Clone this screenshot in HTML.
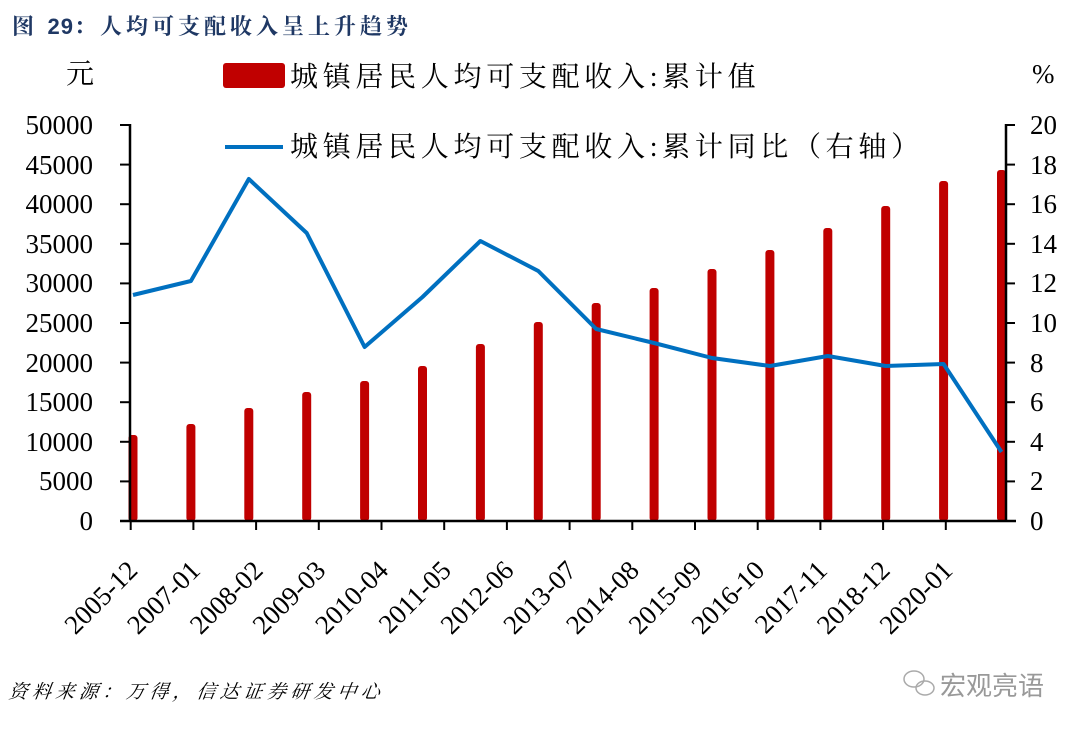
<!DOCTYPE html>
<html><head><meta charset="utf-8"><style>
body{margin:0;background:#fff;width:1080px;height:730px;overflow:hidden}
svg{display:block}
.s{font-family:"Liberation Serif","Noto Serif CJK SC",serif;font-size:27px;fill:#000}
.c{font-family:"Liberation Serif","Noto Serif CJK SC",serif;font-size:28px;fill:#000;letter-spacing:4.7px}
</style></head><body>
<svg width="1080" height="730" viewBox="0 0 1080 730">
<text x="12" y="34" font-family="'Liberation Serif','Noto Serif CJK SC',serif" font-size="22" font-weight="bold" fill="#1F3864" letter-spacing="4">图 <tspan font-family="'Liberation Sans',sans-serif" letter-spacing="1">29</tspan>：人均可支配收入呈上升趋势</text>
<text x="66" y="83" class="c" font-size="26" letter-spacing="0">元</text>
<text x="1032" y="83" class="s" font-size="27">%</text>
<rect x="223" y="63" width="62" height="25" rx="3" fill="#C00000"/>
<text x="290" y="86" class="c">城镇居民人均可支配收入:累计值</text>
<line x1="225" y1="147" x2="283" y2="147" stroke="#0070C0" stroke-width="4"/>
<text x="290" y="156" class="c">城镇居民人均可支配收入:累计同比（右轴）</text>
<g fill="#C00000">
<rect x="128.5" y="435" width="9" height="86" rx="3"/>
<rect x="186.4" y="424" width="9" height="97" rx="3"/>
<rect x="244.3" y="408" width="9" height="113" rx="3"/>
<rect x="302.2" y="392" width="9" height="129" rx="3"/>
<rect x="360.1" y="381" width="9" height="140" rx="3"/>
<rect x="418" y="366" width="9" height="155" rx="3"/>
<rect x="475.9" y="344" width="9" height="177" rx="3"/>
<rect x="533.8" y="322" width="9" height="199" rx="3"/>
<rect x="591.7" y="303" width="9" height="218" rx="3"/>
<rect x="649.6" y="288" width="9" height="233" rx="3"/>
<rect x="707.5" y="269" width="9" height="252" rx="3"/>
<rect x="765.4" y="250" width="9" height="271" rx="3"/>
<rect x="823.3" y="228" width="9" height="293" rx="3"/>
<rect x="881.2" y="206" width="9" height="315" rx="3"/>
<rect x="939.1" y="181" width="9" height="340" rx="3"/>
<rect x="997" y="170" width="9" height="351" rx="3"/>
</g>
<g stroke="#000" stroke-width="2.5" fill="none">
<line x1="130" y1="124" x2="130" y2="522"/>
<line x1="1006" y1="124" x2="1006" y2="522"/>
<line x1="120" y1="521" x2="1016" y2="521"/>
</g>
<g stroke="#000" stroke-width="2">
<line x1="120" y1="125" x2="130" y2="125"/><line x1="120" y1="164.6" x2="130" y2="164.6"/><line x1="120" y1="204.2" x2="130" y2="204.2"/><line x1="120" y1="243.8" x2="130" y2="243.8"/><line x1="120" y1="283.4" x2="130" y2="283.4"/><line x1="120" y1="323" x2="130" y2="323"/><line x1="120" y1="362.6" x2="130" y2="362.6"/><line x1="120" y1="402.2" x2="130" y2="402.2"/><line x1="120" y1="441.8" x2="130" y2="441.8"/><line x1="120" y1="481.4" x2="130" y2="481.4"/>
<line x1="1006" y1="125" x2="1015" y2="125"/><line x1="1006" y1="164.6" x2="1015" y2="164.6"/><line x1="1006" y1="204.2" x2="1015" y2="204.2"/><line x1="1006" y1="243.8" x2="1015" y2="243.8"/><line x1="1006" y1="283.4" x2="1015" y2="283.4"/><line x1="1006" y1="323" x2="1015" y2="323"/><line x1="1006" y1="362.6" x2="1015" y2="362.6"/><line x1="1006" y1="402.2" x2="1015" y2="402.2"/><line x1="1006" y1="441.8" x2="1015" y2="441.8"/><line x1="1006" y1="481.4" x2="1015" y2="481.4"/>
<line x1="130.7" y1="521" x2="130.7" y2="530"/><line x1="193.4" y1="521" x2="193.4" y2="530"/><line x1="256.1" y1="521" x2="256.1" y2="530"/><line x1="318.8" y1="521" x2="318.8" y2="530"/><line x1="381.5" y1="521" x2="381.5" y2="530"/><line x1="444.2" y1="521" x2="444.2" y2="530"/><line x1="506.9" y1="521" x2="506.9" y2="530"/><line x1="569.6" y1="521" x2="569.6" y2="530"/><line x1="632.3" y1="521" x2="632.3" y2="530"/><line x1="695" y1="521" x2="695" y2="530"/><line x1="757.7" y1="521" x2="757.7" y2="530"/><line x1="820.4" y1="521" x2="820.4" y2="530"/><line x1="883.1" y1="521" x2="883.1" y2="530"/><line x1="945.8" y1="521" x2="945.8" y2="530"/>
</g>
<polyline fill="none" stroke="#0070C0" stroke-width="4" stroke-linejoin="round" points="133,295 190.9,281 248.8,179 306.7,233 364.6,347 422.5,297 480.4,241 538.3,271 596.2,329 654.1,343 712,358 769.9,366 827.8,356 885.7,366 943.6,364 1001.5,452"/>
<g class="s" text-anchor="end">
<text x="93" y="134">50000</text><text x="93" y="174">45000</text><text x="93" y="213">40000</text><text x="93" y="253">35000</text><text x="93" y="292">30000</text><text x="93" y="332">25000</text><text x="93" y="372">20000</text><text x="93" y="411">15000</text><text x="93" y="451">10000</text><text x="93" y="490">5000</text><text x="93" y="530">0</text>
</g>
<g class="s">
<text x="1030" y="134">20</text><text x="1030" y="174">18</text><text x="1030" y="213">16</text><text x="1030" y="253">14</text><text x="1030" y="292">12</text><text x="1030" y="332">10</text><text x="1030" y="372">8</text><text x="1030" y="411">6</text><text x="1030" y="451">4</text><text x="1030" y="490">2</text><text x="1030" y="530">0</text>
</g>
<g class="s" text-anchor="end" font-size="30">
<text transform="translate(139,572) rotate(-45)">2005-12</text>
<text transform="translate(201.7,572) rotate(-45)">2007-01</text>
<text transform="translate(264.4,572) rotate(-45)">2008-02</text>
<text transform="translate(327.1,572) rotate(-45)">2009-03</text>
<text transform="translate(389.8,572) rotate(-45)">2010-04</text>
<text transform="translate(452.5,572) rotate(-45)">2011-05</text>
<text transform="translate(515.2,572) rotate(-45)">2012-06</text>
<text transform="translate(577.9,572) rotate(-45)">2013-07</text>
<text transform="translate(640.6,572) rotate(-45)">2014-08</text>
<text transform="translate(703.3,572) rotate(-45)">2015-09</text>
<text transform="translate(766,572) rotate(-45)">2016-10</text>
<text transform="translate(828.7,572) rotate(-45)">2017-11</text>
<text transform="translate(891.4,572) rotate(-45)">2018-12</text>
<text transform="translate(954.1,572) rotate(-45)">2020-01</text>
</g>
<text x="10" y="698" font-family="'Liberation Serif','Noto Serif CJK SC',serif" font-size="19" font-style="italic" fill="#000" letter-spacing="4.5" transform="skewX(-8) translate(96,0)">资料来源：万得，信达证券研发中心</text>
<g fill="none" stroke="#aaa" stroke-width="1.5">
<ellipse cx="914" cy="679" rx="10" ry="8"/>
<ellipse cx="925" cy="688" rx="9" ry="7"/>
</g>
<text x="940" y="695" font-family="'Noto Sans CJK SC',sans-serif" font-size="26" fill="#999">宏观亮语</text>
</svg>
</body></html>
